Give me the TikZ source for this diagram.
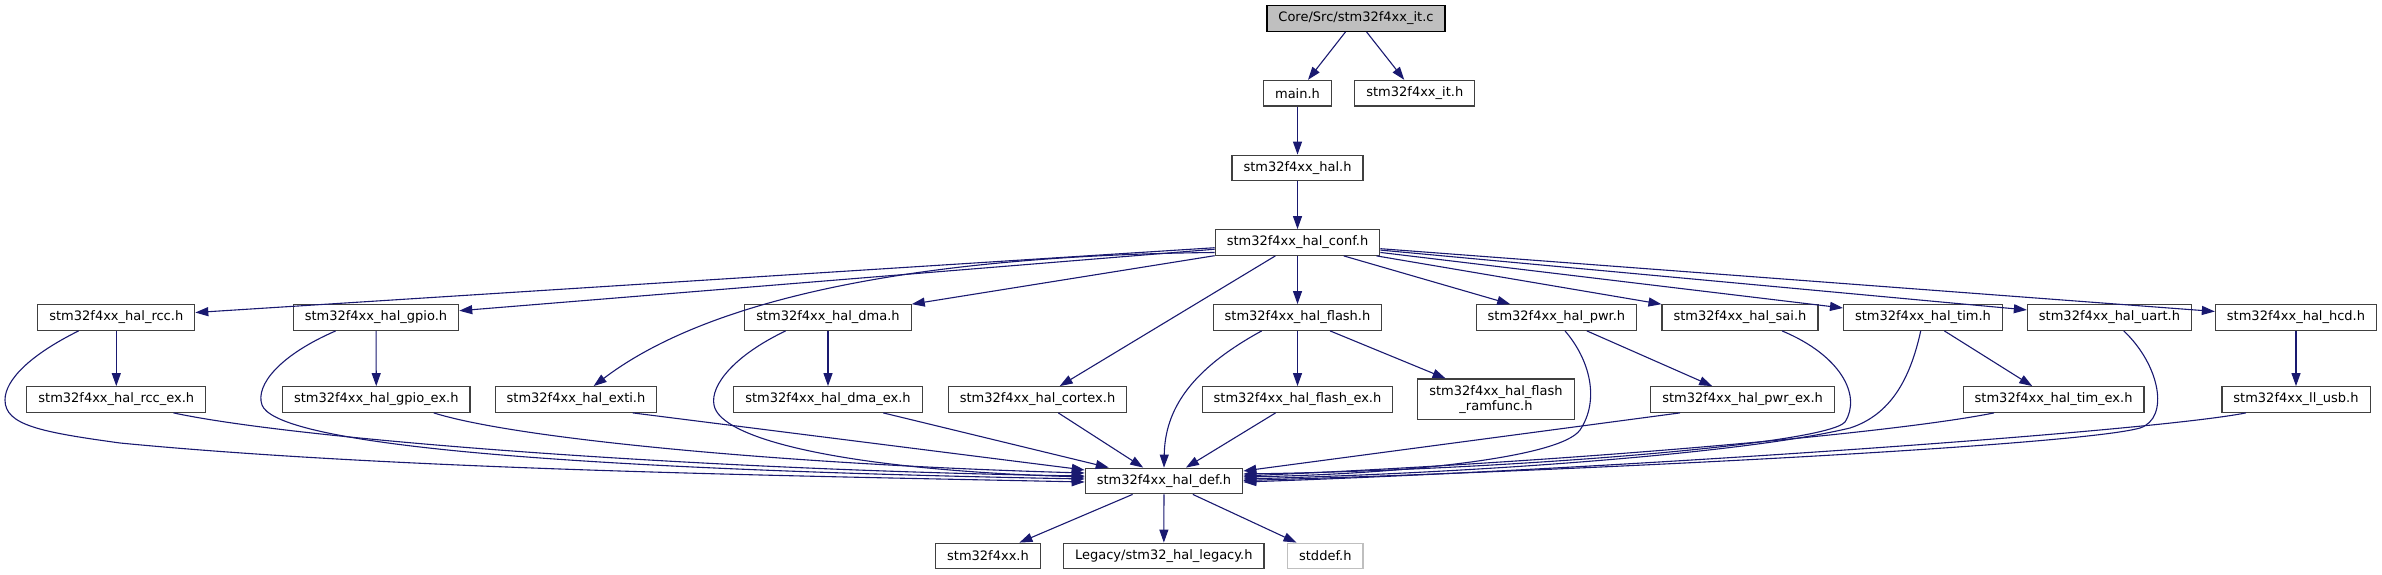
\documentclass[tikz,border=0pt]{standalone}
\usepackage{fontspec}
\setmainfont{DejaVu Sans}
\usetikzlibrary{arrows.meta}
\definecolor{edge-blue}{HTML}{191970}
\definecolor{node-border}{HTML}{404040}
\definecolor{root-fill}{HTML}{BFBFBF}

\begin{document}
\begin{tikzpicture}[
  x=1pt, y=-1pt,
  file/.style={draw=node-border, fill=white, line width=1.2pt,
    minimum height=25.6pt, inner xsep=11.5pt, inner ysep=0pt,
    font=\fontsize{13}{15}\selectfont},
  rootfile/.style={file, draw=black, fill=root-fill},
  sysfile/.style={file, draw=root-fill},
  dep/.style={draw=edge-blue, line width=1.1pt,
    -{Triangle[length=13pt,width=9pt]}},
]
  \useasboundingbox (0,0) rectangle (2382,575);

  % top of the graph
  \node[rootfile] (itc)   at (1356,18.5)   {Core/Src/stm32f4xx\_it.c};
  \node[file]     (mainh) at (1297.5,93.2) {main.h};
  \node[file]     (ith)   at (1414.8,93.2) {stm32f4xx\_it.h};
  \node[file]     (hal)   at (1297.5,168)  {stm32f4xx\_hal.h};
  \node[file]     (conf)  at (1297.5,242.5) {stm32f4xx\_hal\_conf.h};

  % hal modules
  \node[file] (rcc)   at (116.3,317.5)  {stm32f4xx\_hal\_rcc.h};
  \node[file] (gpio)  at (376,317.5)    {stm32f4xx\_hal\_gpio.h};
  \node[file] (dma)   at (828,317.5)    {stm32f4xx\_hal\_dma.h};
  \node[file] (flash) at (1297.5,317.5) {stm32f4xx\_hal\_flash.h};
  \node[file] (pwr)   at (1556.4,317.5) {stm32f4xx\_hal\_pwr.h};
  \node[file] (sai)   at (1740,317.5)   {stm32f4xx\_hal\_sai.h};
  \node[file] (tim)   at (1923,317.5)   {stm32f4xx\_hal\_tim.h};
  \node[file] (uart)  at (2109.5,317.5) {stm32f4xx\_hal\_uart.h};
  \node[file] (hcd)   at (2296,317.5)   {stm32f4xx\_hal\_hcd.h};

  \node[file] (rccex)   at (116.3,399.5)  {stm32f4xx\_hal\_rcc\_ex.h};
  \node[file] (gpioex)  at (376.3,399.5)  {stm32f4xx\_hal\_gpio\_ex.h};
  \node[file] (exti)    at (576,399.5)    {stm32f4xx\_hal\_exti.h};
  \node[file] (dmaex)   at (828,399.5)    {stm32f4xx\_hal\_dma\_ex.h};
  \node[file] (cortex)  at (1037.5,399.5) {stm32f4xx\_hal\_cortex.h};
  \node[file] (flashex) at (1297.5,399.5) {stm32f4xx\_hal\_flash\_ex.h};
  \node[file, minimum height=40.3pt, align=center] (ramfunc) at (1496,399.2)
    {stm32f4xx\_hal\_flash\\\_ramfunc.h};
  \node[file] (pwrex)   at (1742.6,399.5) {stm32f4xx\_hal\_pwr\_ex.h};
  \node[file] (timex)   at (2053.6,399.5) {stm32f4xx\_hal\_tim\_ex.h};
  \node[file] (llusb)   at (2296,399.5)   {stm32f4xx\_ll\_usb.h};

  % bottom
  \node[file]    (def)    at (1164,481)    {stm32f4xx\_hal\_def.h};
  \node[file]    (f4xx)   at (988,556)     {stm32f4xx.h};
  \node[file]    (legacy) at (1163.8,556)  {Legacy/stm32\_hal\_legacy.h};
  \node[sysfile] (stddef) at (1325.3,556)  {stddef.h};

  \draw[dep] (itc) -- (mainh);
  \draw[dep] (itc) -- (ith);
  \draw[dep] (mainh) -- (hal);
  \draw[dep] (hal) -- (conf);

  \draw[dep] (conf) -- (rcc);
  \draw[dep] (conf) -- (gpio);
  \draw[dep] ([yshift=-10pt]conf.west) .. controls (950,255) and (720,290) .. (exti);
  \draw[dep] (conf) -- (dma);
  \draw[dep] (conf) -- (cortex);
  \draw[dep] (conf) -- (flash);
  \draw[dep] (conf) -- (pwr);
  \draw[dep] (conf) -- (sai);
  \draw[dep] (conf) -- (tim);
  \draw[dep] (conf) -- (uart);
  \draw[dep] (conf) -- (hcd);

  % left side into def
  \draw[dep] (rcc) -- (rccex);
  \draw[dep] ([xshift=-37.7pt]rcc.south) .. controls (30,355) and (5,380) .. (5,400)
    .. controls (5,425) and (40,432) .. (120,443)
    .. controls (400,470) and (800,476) .. ([yshift=-1pt]def.west);
  \draw[dep] (gpio) -- (gpioex);
  \draw[dep] ([xshift=-40.3pt]gpio.south) .. controls (280,355) and (255,385) .. (262,405)
    .. controls (275,440) and (500,468) .. ([yshift=2pt]def.west);
  \draw[dep] ([xshift=57.2pt]rccex.south) .. controls (300,440) and (700,470) .. ([yshift=5pt]def.west);
  \draw[dep] ([xshift=57.4pt]gpioex.south) .. controls (520,440) and (800,465) .. ([yshift=8pt]def.west);
  \draw[dep] ([xshift=56.7pt]exti.south) -- ([yshift=11pt]def.west);
  \draw[dep] (dma) -- (dmaex);
  \draw[dep] ([xshift=-42.3pt]dma.south) .. controls (735,355) and (710,385) .. (714,405)
    .. controls (720,440) and (850,470) .. ([yshift=4pt]def.west);
  \draw[dep] (dmaex) -- (def);
  \draw[dep] (cortex) -- (def);

  % flash
  \draw[dep] (flash) -- (flashex);
  \draw[dep] (flash) -- (ramfunc);
  \draw[dep] ([xshift=-35.8pt]flash.south) .. controls (1190,370) and (1165,410) .. (def.north);
  \draw[dep] (flashex) -- (def);

  % right side into def
  \draw[dep] (pwr) -- (pwrex);
  \draw[dep] ([xshift=8.6pt]pwr.south) .. controls (1590,360) and (1600,400) .. (1580,430)
    .. controls (1560,458) and (1400,474) .. ([yshift=4pt]def.east);
  \draw[dep] ([xshift=-62.6pt]pwrex.south) -- ([yshift=10pt]def.east);
  \draw[dep] ([xshift=42pt]sai.south) .. controls (1840,355) and (1862,395) .. (1845,422)
    .. controls (1825,445) and (1500,470) .. ([yshift=7pt]def.east);
  \draw[dep] (tim) -- (timex);
  \draw[dep] ([xshift=-2.3pt]tim.south) .. controls (1910,380) and (1890,415) .. (1850,428)
    .. controls (1750,452) and (1500,472) .. ([yshift=2pt]def.east);
  \draw[dep] ([xshift=-59.6pt]timex.south) .. controls (1900,432) and (1600,460) .. ([yshift=5pt]def.east);
  \draw[dep] ([xshift=14.2pt]uart.south) .. controls (2160,365) and (2170,418) .. (2140,428)
    .. controls (2080,445) and (1600,470) .. ([yshift=0.5pt]def.east);
  \draw[dep] (hcd) -- (llusb);
  \draw[dep] ([xshift=-50.1pt]llusb.south) .. controls (2150,432) and (1600,470) .. ([yshift=-1pt]def.east);

  \draw[dep] (def) -- (f4xx);
  \draw[dep] (def) -- (legacy);
  \draw[dep] (def) -- (stddef);
\end{tikzpicture}
\end{document}
